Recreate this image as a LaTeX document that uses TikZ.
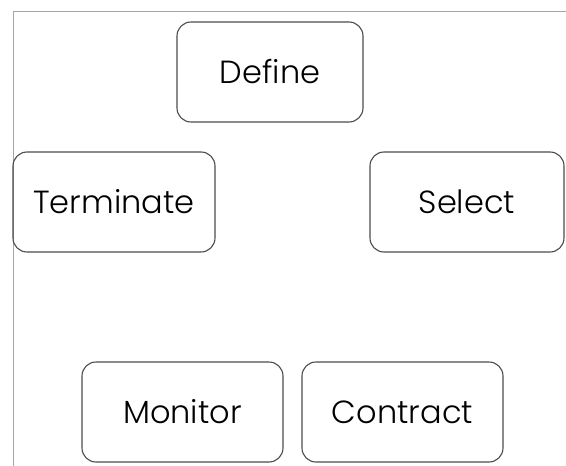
\documentclass[tikz,border=0pt]{standalone}
\usepackage{fontspec}
\setmainfont{Poppins}[UprightFont=* Light]
\usepackage{tikz}
\tikzstyle{stage}=[draw=black!70, rectangle, rounded corners=14pt, line width=1.1pt, minimum height=100pt, inner sep=0pt, font=\fontsize{32}{38}\selectfont]
\tikzstyle{frame}=[draw=black!35, line width=0.9pt]

\begin{document}
\begin{tikzpicture}[x=1pt, y=-1pt]
        \useasboundingbox (0,0) rectangle (566,466);
        \draw[frame] (13,466) -- (13,11) -- (566,11);
        \node[stage, minimum width=186pt] (define) at (270,72) {Define};
        \node[stage, minimum width=202pt] (terminate) at (114,202) {Terminate};
        \node[stage, minimum width=194pt] (select) at (467,202) {Select};
        \node[stage, minimum width=201pt] (monitor) at (182.5,412) {Monitor};
        \node[stage, minimum width=201pt] (contract) at (402.5,412) {Contract};
    \end{tikzpicture}
\end{document}
